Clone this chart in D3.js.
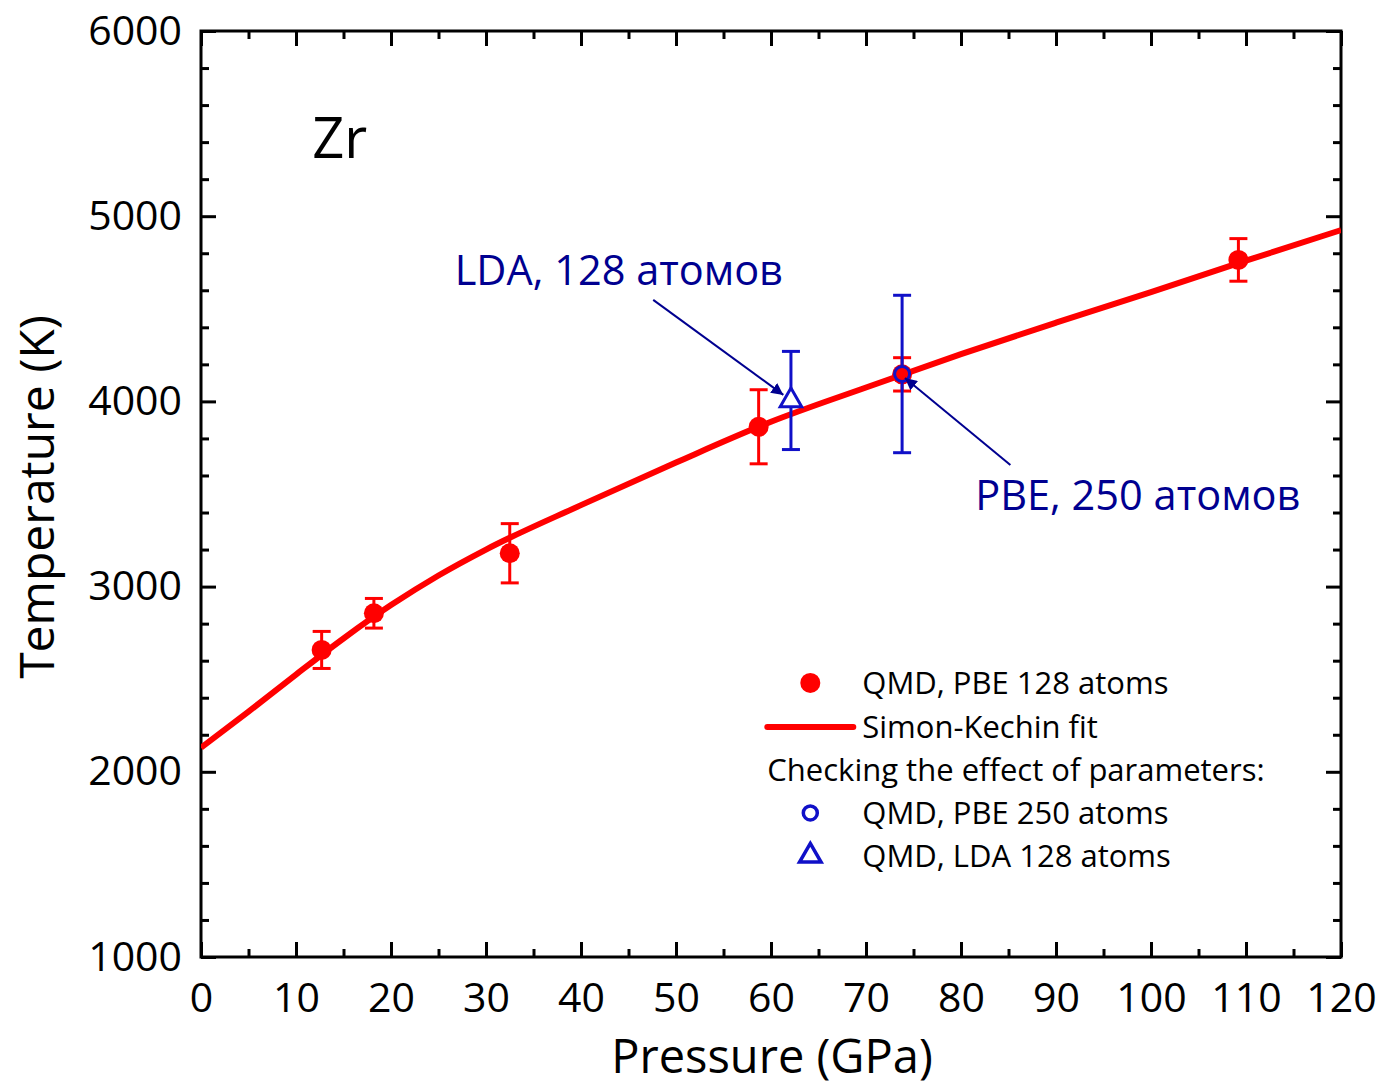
<!DOCTYPE html>
<html>
<head>
<meta charset="utf-8">
<script src="https://cdn.jsdelivr.net/npm/d3@7"></script>
<style>
  body { margin: 0; background: #fff; }
  text { font-family: "Open Sans", sans-serif; }
</style>
</head>
<body>
<div id="wrapper"></div>
<script>
// data
const pbe128P = [12.7, 18.2, 32.5, 58.7, 73.8, 109.2]
const pbe128T = [2658, 2856, 3180, 3863, 4146, 4764]
const pbe128Err = [100, 80, 160, 200, 90, 115]

const pbe250P = [73.8]
const pbe250T = [4148]
const pbe250Err = [425]

const lda128P = [62.1]
const lda128T = [4005]
const lda128Err = [265]

// Simon-Kechin fit curve
const fitP = [0, 5, 10, 15, 20, 25, 30, 40, 50, 60, 70, 80, 90, 100, 110, 120]
const fitT = [2130, 2325, 2525, 2720, 2900, 3060, 3200, 3440, 3670, 3890, 4075, 4255, 4425, 4590, 4760, 4925]

const xTicks = [0, 10, 20, 30, 40, 50, 60, 70, 80, 90, 100, 110, 120]
const yTicks = [1000, 2000, 3000, 4000, 5000, 6000]

const legendLabels = ["QMD, PBE 128 atoms", "Simon-Kechin fit", "Checking the effect of parameters:", "QMD, PBE 250 atoms", "QMD, LDA 128 atoms"]

function drawChart() {
  const dimensions = {
    width: 1383,
    height: 1090,
    margin: { top: 31, right: 42, bottom: 133, left: 201 }
  }
  dimensions.boundedWidth = dimensions.width - dimensions.margin.left - dimensions.margin.right
  dimensions.boundedHeight = dimensions.height - dimensions.margin.top - dimensions.margin.bottom

  const red = "#ff0000"
  const blue = "#1010c8"
  const navy = "#000090"

  const wrapper = d3.select("#wrapper").append("svg")
    .attr("width", dimensions.width)
    .attr("height", dimensions.height)

  const defs = wrapper.append("defs")
  defs.append("marker")
    .attr("id", "arrow")
    .attr("viewBox", "0 0 10 10")
    .attr("refX", 10).attr("refY", 5)
    .attr("markerWidth", 12).attr("markerHeight", 12)
    .attr("markerUnits", "userSpaceOnUse")
    .attr("orient", "auto")
    .append("path")
    .attr("d", "M0,0 L10,5 L0,10 z")
    .attr("fill", navy)

  defs.append("clipPath").attr("id", "clip")
    .append("rect")
    .attr("width", dimensions.boundedWidth)
    .attr("height", dimensions.boundedHeight)

  const bounds = wrapper.append("g")
    .attr("transform", `translate(${dimensions.margin.left},${dimensions.margin.top})`)

  const xScale = d3.scaleLinear().domain([0, 120]).range([0, dimensions.boundedWidth])
  const yScale = d3.scaleLinear().domain([1000, 6000]).range([dimensions.boundedHeight, 0])

  // axes with inward ticks on all four sides
  const xMinor = d3.range(0, 121, 5).filter(d => d % 10 !== 0)
  const yMinor = d3.range(1000, 6001, 200).filter(d => d % 1000 !== 0)

  bounds.append("g")
    .attr("transform", `translate(0,${dimensions.boundedHeight})`)
    .call(d3.axisBottom(xScale).tickValues(xTicks).tickFormat(d3.format("d")).tickSizeInner(-15).tickSizeOuter(0).tickPadding(26))
  bounds.append("g")
    .attr("transform", `translate(0,${dimensions.boundedHeight})`)
    .call(d3.axisBottom(xScale).tickValues(xMinor).tickSizeInner(-8).tickSizeOuter(0).tickFormat(""))
  bounds.append("g")
    .call(d3.axisTop(xScale).tickValues(xTicks).tickSizeInner(-15).tickSizeOuter(0).tickFormat(""))
  bounds.append("g")
    .call(d3.axisTop(xScale).tickValues(xMinor).tickSizeInner(-8).tickSizeOuter(0).tickFormat(""))

  bounds.append("g")
    .call(d3.axisLeft(yScale).tickValues(yTicks).tickFormat(d3.format("d")).tickSizeInner(-15).tickSizeOuter(0).tickPadding(19))
  bounds.append("g")
    .call(d3.axisLeft(yScale).tickValues(yMinor).tickSizeInner(-8).tickSizeOuter(0).tickFormat(""))
  bounds.append("g")
    .attr("transform", `translate(${dimensions.boundedWidth},0)`)
    .call(d3.axisRight(yScale).tickValues(yTicks).tickSizeInner(-15).tickSizeOuter(0).tickFormat(""))
  bounds.append("g")
    .attr("transform", `translate(${dimensions.boundedWidth},0)`)
    .call(d3.axisRight(yScale).tickValues(yMinor).tickSizeInner(-8).tickSizeOuter(0).tickFormat(""))

  bounds.selectAll(".domain").remove()
  bounds.selectAll(".tick line").attr("stroke", "#000").attr("stroke-width", 3)
  bounds.selectAll(".tick text")
    .attr("fill", "#000")
    .style("font-size", "41px")
    .style("font-family", "'Open Sans', sans-serif")

  // frame
  bounds.append("rect")
    .attr("width", dimensions.boundedWidth)
    .attr("height", dimensions.boundedHeight)
    .attr("fill", "none")
    .attr("stroke", "#000")
    .attr("stroke-width", 3)

  // fit curve
  const fitData = fitP.map((p, i) => ({ p, t: fitT[i] }))
  const lineGenerator = d3.line()
    .x(d => xScale(d.p))
    .y(d => yScale(d.t))
    .curve(d3.curveMonotoneX)
  bounds.append("path")
    .datum(fitData)
    .attr("clip-path", "url(#clip)")
    .attr("d", lineGenerator)
    .attr("fill", "none")
    .attr("stroke", red)
    .attr("stroke-width", 6)

  // error bars helper
  const drawErrors = (data, color, cap) => {
    const g = bounds.append("g").attr("stroke", color).attr("stroke-width", 3)
    g.selectAll(".v").data(data).join("line")
      .attr("x1", d => xScale(d.p)).attr("x2", d => xScale(d.p))
      .attr("y1", d => yScale(d.t + d.e)).attr("y2", d => yScale(d.t - d.e))
    g.selectAll(".top").data(data).join("line")
      .attr("x1", d => xScale(d.p) - cap).attr("x2", d => xScale(d.p) + cap)
      .attr("y1", d => yScale(d.t + d.e)).attr("y2", d => yScale(d.t + d.e))
    g.selectAll(".bottom").data(data).join("line")
      .attr("x1", d => xScale(d.p) - cap).attr("x2", d => xScale(d.p) + cap)
      .attr("y1", d => yScale(d.t - d.e)).attr("y2", d => yScale(d.t - d.e))
  }

  const redData = pbe128P.map((p, i) => ({ p, t: pbe128T[i], e: pbe128Err[i] }))
  const circData = pbe250P.map((p, i) => ({ p, t: pbe250T[i], e: pbe250Err[i] }))
  const triData = lda128P.map((p, i) => ({ p, t: lda128T[i], e: lda128Err[i] }))

  drawErrors(redData, red, 9)
  bounds.append("g").selectAll("circle").data(redData).join("circle")
    .attr("cx", d => xScale(d.p)).attr("cy", d => yScale(d.t))
    .attr("r", 10).attr("fill", red)

  drawErrors(circData, blue, 9)
  bounds.append("g").selectAll("circle").data(circData).join("circle")
    .attr("cx", d => xScale(d.p)).attr("cy", d => yScale(d.t))
    .attr("r", 7.5).attr("fill", red).attr("stroke", blue).attr("stroke-width", 3)

  drawErrors(triData, blue, 9)
  bounds.append("g").selectAll("path").data(triData).join("path")
    .attr("transform", d => `translate(${xScale(d.p)},${yScale(d.t)})`)
    .attr("d", d3.symbol(d3.symbolTriangle, 200))
    .attr("fill", "#fff").attr("stroke", blue).attr("stroke-width", 3)

  // annotations
  const notes = [
    { text: "LDA, 128 атомов", tx: 26.7, ty: 4628, x1: 47.6, y1: 4548, x2: 61.3, y2: 4035 },
    { text: "PBE, 250 атомов", tx: 81.5, ty: 3414, x1: 85.2, y1: 3657, x2: 74.1, y2: 4126 }
  ]
  bounds.selectAll(".note-line").data(notes).join("line")
    .attr("x1", d => xScale(d.x1)).attr("y1", d => yScale(d.y1))
    .attr("x2", d => xScale(d.x2)).attr("y2", d => yScale(d.y2))
    .attr("stroke", navy).attr("stroke-width", 2)
    .attr("marker-end", "url(#arrow)")
  bounds.selectAll(".note-text").data(notes).join("text")
    .attr("x", d => xScale(d.tx)).attr("y", d => yScale(d.ty))
    .attr("fill", navy)
    .style("font-size", "41.5px")
    .text(d => d.text)

  bounds.append("text")
    .attr("x", xScale(11.7)).attr("y", yScale(5314))
    .style("font-size", "56px")
    .text("Zr")

  // legend
  const legend = bounds.append("g")
    .attr("transform", `translate(${xScale(59.4)},0)`)
  const rowY = [2480, 2242, 2010, 1778, 1546].map(d => yScale(d))

  legend.append("circle")
    .attr("cx", 45).attr("cy", rowY[0]).attr("r", 10).attr("fill", red)
  legend.append("line")
    .attr("x1", 2).attr("x2", 88)
    .attr("y1", rowY[1]).attr("y2", rowY[1])
    .attr("stroke", red).attr("stroke-width", 6)
    .attr("stroke-linecap", "round")
  legend.append("circle")
    .attr("cx", 45).attr("cy", rowY[3]).attr("r", 7)
    .attr("fill", "none").attr("stroke", blue).attr("stroke-width", 3.5)
  legend.append("path")
    .attr("transform", `translate(45,${rowY[4]})`)
    .attr("d", d3.symbol(d3.symbolTriangle, 200))
    .attr("fill", "none").attr("stroke", blue).attr("stroke-width", 3.5)

  legend.selectAll("text").data(legendLabels).join("text")
    .attr("x", (d, i) => i === 2 ? 2 : 97)
    .attr("y", (d, i) => rowY[i])
    .attr("dy", "0.35em")
    .style("font-size", "31px")
    .text(d => d)

  // axis titles
  wrapper.append("text")
    .attr("x", 772)
    .attr("y", 1073)
    .attr("text-anchor", "middle")
    .style("font-size", "47px")
    .text("Pressure (GPa)")

  wrapper.append("text")
    .attr("transform", "translate(54,497) rotate(-90)")
    .attr("text-anchor", "middle")
    .style("font-size", "48px")
    .text("Temperature (K)")
}

drawChart()
</script>
</body>
</html>
